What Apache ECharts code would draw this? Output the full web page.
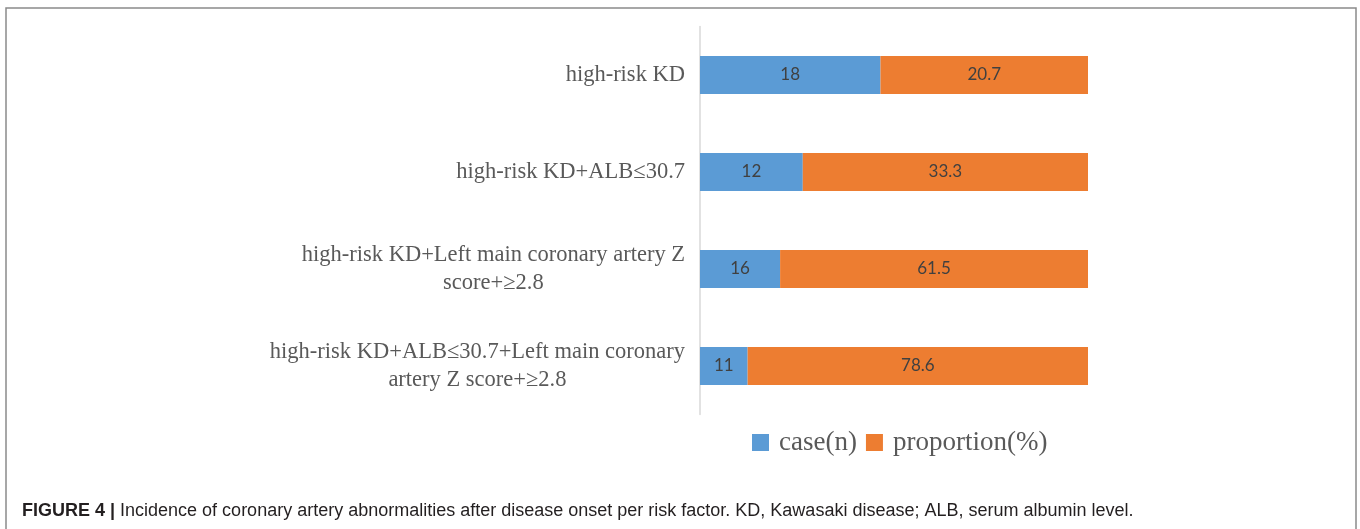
<!DOCTYPE html>
<html>
<head>
<meta charset="utf-8">
<script src="https://cdn.jsdelivr.net/npm/echarts@6/dist/echarts.min.js"></script>
<style>
html,body{margin:0;padding:0;background:#fff;}
#chart{width:1360px;height:529px;}
</style>
</head>
<body>
<div id="chart"></div>
<script>
// ---- data ----
const categories = [
  'high-risk KD',
  'high-risk KD+ALB\u226430.7',
  'high-risk KD+Left main coronary artery Z\nscore+\u22652.8',
  'high-risk KD+ALB\u226430.7+Left main coronary\nartery Z score+\u22652.8'
];
const caseN = [18, 12, 16, 11];
const proportion = [20.7, 33.3, 61.5, 78.6];
const seriesNames = ['case(n)', 'proportion(%)'];
const captionBold = 'FIGURE 4 | ';
const captionText = 'Incidence of coronary artery abnormalities after disease onset per risk factor. KD, Kawasaki disease; ALB, serum albumin level.';

// 100% stacked: each bar's share of its row total
const totals = caseN.map((v, i) => v + proportion[i]);
const caseShare = caseN.map((v, i) => ({ value: v / totals[i] * 100, raw: v }));
const propShare = proportion.map((v, i) => ({ value: v / totals[i] * 100, raw: v }));

const serif = '"Liberation Serif", "DejaVu Serif", serif';
const chart = echarts.init(document.getElementById('chart'), null, { renderer: 'canvas' });

const barLabel = {
  show: true,
  position: 'inside',
  color: '#404040',
  fontFamily: 'Lato, "Open Sans", sans-serif',
  fontSize: 17,
  formatter: p => p.data.raw
};

chart.setOption({
  animation: false,
  backgroundColor: '#fff',
  grid: { left: 700, right: 272, top: 26.5, bottom: 114.5 },
  xAxis: {
    type: 'value', min: 0, max: 100, show: false
  },
  yAxis: {
    type: 'category',
    data: categories,
    inverse: true,
    axisLine: { show: true, lineStyle: { color: '#d9d9d9', width: 1.5 } },
    axisTick: { show: false },
    splitLine: { show: false },
    axisLabel: {
      margin: 15,
      align: 'right',
      formatter: v => v.split('\n').map(l => '{c|' + l + '}').join('\n'),
      rich: {
        c: { align: 'center', fontFamily: serif, fontSize: 22.5, color: '#595959', lineHeight: 28 }
      }
    }
  },
  legend: {
    data: seriesNames,
    left: 752, top: 429,
    padding: 0,
    itemWidth: 17, itemHeight: 17, itemGap: 9,
    icon: 'rect',
    textStyle: { fontFamily: serif, fontSize: 27, color: '#595959', padding: [0, 0, 0, 5] }
  },
  series: [
    {
      name: seriesNames[0], type: 'bar', stack: 'total', barWidth: 38,
      itemStyle: { color: '#5B9BD5' }, label: barLabel, data: caseShare
    },
    {
      name: seriesNames[1], type: 'bar', stack: 'total', barWidth: 38,
      itemStyle: { color: '#ED7D31' }, label: barLabel, data: propShare
    }
  ],
  graphic: [
    {
      type: 'rect', silent: true,
      shape: { x: 6, y: 8, width: 1350, height: 540 },
      style: { fill: 'none', stroke: '#8a8a8a', lineWidth: 1.5 }
    },
    {
      type: 'text', left: 22, top: 502,
      style: {
        text: '{b|' + captionBold + '}{n|' + captionText + '}',
        rich: {
          b: { fontFamily: '"Liberation Sans", sans-serif', fontWeight: 'bold', fontSize: 18, fill: '#231f20' },
          n: { fontFamily: '"Liberation Sans", sans-serif', fontSize: 18, fill: '#231f20' }
        }
      }
    }
  ]
});
</script>
</body>
</html>
